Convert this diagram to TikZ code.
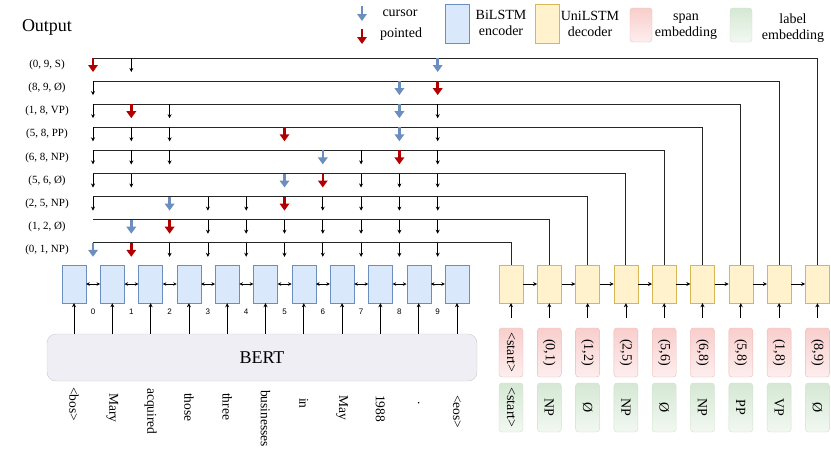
\documentclass[tikz,border=0pt]{standalone}
\usepackage{fontspec}
\setmainfont{Liberation Serif}
\newfontfamily\numfont{Liberation Sans}
\usetikzlibrary{positioning,arrows.meta}
\definecolor{encfill}{HTML}{DAE8FC}
\definecolor{encdraw}{HTML}{6C8EBF}
\definecolor{decfill}{HTML}{FFF2CC}
\definecolor{decdraw}{HTML}{D6B656}
\definecolor{spantop}{HTML}{F8CECC}
\definecolor{spanbot}{HTML}{FDEEEE}
\definecolor{spandraw}{HTML}{EDB9B7}
\definecolor{labtop}{HTML}{D5E8D4}
\definecolor{labbot}{HTML}{F2F8F1}
\definecolor{labdraw}{HTML}{CFE3CC}
\definecolor{cursorc}{HTML}{6C8EBF}
\definecolor{pointc}{HTML}{B20000}
\definecolor{bertfill}{HTML}{EEEEF4}
\definecolor{bertdraw}{HTML}{C8C8D6}

\begin{document}
\begin{tikzpicture}[x=1pt,y=-1pt,
        enc/.style={draw=encdraw,fill=encfill,minimum width=24,minimum height=38,inner sep=0},
        dec/.style={draw=decdraw,fill=decfill,minimum width=24,minimum height=38,inner sep=0},
        spanbox/.style={draw=spandraw,top color=spantop,bottom color=spanbot,rounded corners=3,minimum width=24,minimum height=49,inner sep=0},
        labbox/.style={draw=labdraw,top color=labtop,bottom color=labbot,rounded corners=3,minimum width=24,minimum height=49,inner sep=0},
        emb/.style={rotate=-90,inner sep=0,font=\fontsize{14}{16}\selectfont},
        word/.style={rotate=-90,anchor=west,inner sep=0,font=\fontsize{13.5}{15}\selectfont},
        legend/.style={align=center,font=\fontsize{14}{16}\selectfont},
        tip/.style={-{Stealth[length=4,width=4]},line width=0.8},
        cur/.style={-{Triangle[length=7,width=9.5]},line width=2.6,cursorc},
        pnt/.style={-{Triangle[length=7,width=9.5]},line width=2.6,pointc},
        link/.style={line width=1,black!85}]
    \useasboundingbox (0,0) rectangle (831,451);

    \node[font=\fontsize{18}{20}\selectfont] (out) at (47,27) {Output};
    \draw[cur] (362,6) -- (362,21);
    \node[legend] (leg-cur) at (400,13) {cursor};
    \draw[pnt] (362,29) -- (362,44);
    \node[legend] (leg-pnt) at (401,34) {pointed};
    \node[enc,minimum height=39] (leg-enc) at (457,23.5) {};
    \node[legend] at (501,23) {BiLSTM\\encoder};
    \node[dec,minimum height=39] (leg-dec) at (547,23.5) {};
    \node[legend] at (590,24) {UniLSTM\\decoder};
    \node[spanbox,minimum width=22,minimum height=34] (leg-span) at (641,25) {};
    \node[legend] at (686,27) {span\\embedding};
    \node[labbox,minimum width=22,minimum height=34] (leg-lab) at (741,25) {};
    \node[legend] at (793,28) {label\\embedding};

    \foreach \i in {0,...,10}
        \node[enc] (enc-\i) at (74+38.3*\i,284) {};
    \foreach \i [evaluate=\i as \n using int(\i+1)] in {0,...,9}{
        \draw[{Stealth[length=3.5,width=3.5]}-{Stealth[length=3.5,width=3.5]},line width=0.7] (enc-\i) -- (enc-\n);
        \node[font=\numfont\fontsize{8}{9}\selectfont] (idx-\i) at (93+38.3*\i,312) {\i};
    }
    \node[draw=bertdraw,fill=bertfill,rounded corners=9,minimum width=430,minimum height=47,font=\fontsize{18}{20}\selectfont] (bert) at (262,357.5) {BERT};
    \foreach \i in {0,...,10}
        \draw[tip] (enc-\i.south |- bert.north) -- (enc-\i.south);
    \foreach \w/\y [count=\i from 0] in {<bos>/387,Mary/393,acquired/388,those/393,three/393,businesses/390,in/398,May/395,1988/395,./401,<eos>/395}
        \node[word] (w-\i) at (74+38.3*\i,\y) {\w};

    \foreach \j in {0,...,8}
        \node[dec] (dec-\j) at (511+38.3*\j,284) {};
    \foreach \j [evaluate=\j as \n using int(\j+1)] in {0,...,7}
        \draw[tip] (dec-\j) -- (dec-\n);
    \foreach \s/\l [count=\j from 0] in {<start>/<start>,{(0,1)}/NP,{(1,2)}/Ø,{(2,5)}/NP,{(5,6)}/Ø,{(6,8)}/NP,{(5,8)}/PP,{(1,8)}/VP,{(8,9)}/Ø}{
        \node[spanbox] (span-\j) at (511+38.3*\j,352.5) {};
        \node[emb] at (span-\j) {\s};
        \node[labbox] (lab-\j) at (511+38.3*\j,407.5) {};
        \node[emb] at (lab-\j) {\l};
        \draw[tip,shorten <=10] (span-\j) -- (dec-\j);
    }

    \foreach \r/\lab/\arr in {
            0/{(0, 9, S)}/{0/pnt,1/tip,9/cur},
            1/{(8, 9, Ø)}/{0/tip,8/cur,9/pnt},
            2/{(1, 8, VP)}/{0/tip,1/pnt,2/tip,8/cur,9/tip},
            3/{(5, 8, PP)}/{0/tip,1/tip,2/tip,5/pnt,8/cur,9/tip},
            4/{(6, 8, NP)}/{0/tip,1/tip,2/tip,6/cur,7/tip,8/pnt,9/tip},
            5/{(5, 6, Ø)}/{0/tip,1/tip,5/cur,6/pnt,7/tip,8/tip,9/tip},
            6/{(2, 5, NP)}/{0/tip,2/cur,3/tip,4/tip,5/pnt,6/tip,7/tip,8/tip,9/tip},
            7/{(1, 2, Ø)}/{1/cur,2/pnt,3/tip,4/tip,5/tip,6/tip,7/tip,8/tip,9/tip},
            8/{(0, 1, NP)}/{0/cur,1/pnt,2/tip,3/tip,4/tip,5/tip,6/tip,7/tip,8/tip,9/tip}}{
        \pgfmathtruncatemacro\j{8-\r}
        \coordinate (row-\r) at (93,58+23.1*\r);
        \node[font=\fontsize{11}{13}\selectfont] (lab-row-\r) at (47,65+23.1*\r) {\lab};
        \draw[link] (row-\r) -| (dec-\j.north);
        \foreach \k/\s in \arr
            \draw[\s] (93+38.3*\k,58+23.1*\r) -- ++(0,14);
    }
\end{tikzpicture}
\end{document}
